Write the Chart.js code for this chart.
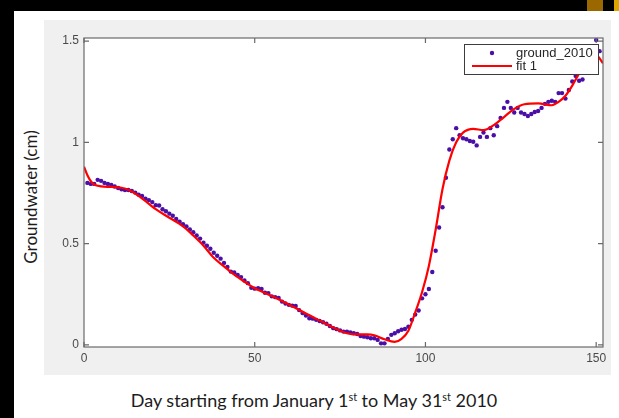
<!DOCTYPE html>
<html>
<head>
<meta charset="utf-8">
<script src="https://cdn.jsdelivr.net/npm/chart.js@4"></script>
<style>
  html, body { margin: 0; padding: 0; background: #ffffff; }
  body { width: 619px; height: 418px; position: relative; overflow: hidden; }
  .deco { position: absolute; }
  #fig { position: absolute; left: 44px; top: 20px; width: 567px; height: 355px; background: #f0f0f0; }
  #fig canvas { display: block; }
  .title { position: absolute; white-space: nowrap; font-family: Lato, "Open Sans", sans-serif; color: #1c1c1c; line-height: 1; }
  .title sup { font-size: 0.6em; vertical-align: 0; position: relative; top: -0.55em; line-height: 0; }
  #ytitle { left: 30px; top: 197px; font-size: 17px; transform: translate(-50%, -50%) rotate(-90deg); }
  #xtitle { left: 314px; top: 400px; font-size: 18px; transform: translate(-50%, -50%); }
</style>
</head>
<body>
<div class="deco" style="left:0;top:0;width:619px;height:11px;background:#000;"></div>
<div class="deco" style="left:0;top:0;width:14px;height:418px;background:#000;"></div>
<div class="deco" style="left:587px;top:0;width:16px;height:11px;background:#9b6800;"></div>
<div class="deco" style="left:614px;top:0;width:5px;height:11px;background:#dca600;"></div>

<div id="fig"><canvas id="chart" width="567" height="355"></canvas></div>

<div class="title" id="ytitle">Groundwater (cm)</div>
<div class="title" id="xtitle">Day starting from January 1<sup>st</sup> to May 31<sup>st</sup> 2010</div>

<script>
// Daily groundwater readings (cm), one per day starting January 1st
const firstDay = 1;
const groundwater = [
  0.800, 0.795, 0.795, 0.815, 0.810, 0.800, 0.795, 0.790, 0.782, 0.775,
  0.768, 0.765, 0.765, 0.760, 0.752, 0.742, 0.735, 0.722, 0.715, 0.705,
  0.690, 0.688, 0.670, 0.660, 0.648, 0.638, 0.622, 0.608, 0.596, 0.585,
  0.570, 0.556, 0.540, 0.525, 0.505, 0.490, 0.475, 0.455, 0.440, 0.426,
  0.405, 0.385, 0.362, 0.358, 0.345, 0.335, 0.318, 0.305, 0.282, 0.278,
  0.280, 0.276, 0.258, 0.256, 0.240, 0.236, 0.232, 0.214, 0.205, 0.198,
  0.194, 0.192, 0.172, 0.158, 0.145, 0.132, 0.130, 0.124, 0.118, 0.112,
  0.105, 0.094, 0.083, 0.078, 0.072, 0.066, 0.066, 0.062, 0.058, 0.054,
  0.044, 0.041, 0.038, 0.033, 0.033, 0.025, 0.008, 0.008, 0.030, 0.050,
  0.058, 0.068, 0.075, 0.079, 0.090, 0.124, 0.150, 0.170, 0.230, 0.250,
  0.276, 0.360, 0.465, 0.580, 0.680, 0.825, 0.965, 1.015, 1.070, 1.035,
  1.020, 1.015, 1.007, 1.003, 0.985, 1.027, 1.048, 1.027, 1.070, 1.035,
  1.080, 1.120, 1.170, 1.200, 1.170, 1.147, 1.170, 1.147, 1.140, 1.130,
  1.140, 1.150, 1.155, 1.170, 1.190, 1.200, 1.205, 1.200, 1.243, 1.243,
  1.216, 1.258, 1.300, 1.328, 1.304, 1.310, 1.370, 1.400, 1.440, 1.505,
  1.450
];

// Smoothed fit ("fit 1") sampled along the day axis
const fitDays = [
  0, 1, 2, 3, 5, 8, 11, 13, 16, 21, 25, 29, 32, 35, 38, 41, 44, 47, 50, 55,
  60, 65, 70, 74, 77, 80, 83, 85, 88, 91, 93, 95, 97, 99, 101, 103, 105, 107, 109, 111,
  114, 117, 120, 123, 126, 129, 133, 137, 139, 141, 143, 145, 147, 149, 150.5, 152
];
const fitValues = [
  0.880, 0.838, 0.808, 0.792, 0.783, 0.780, 0.776, 0.766, 0.736, 0.670,
  0.628, 0.585, 0.540, 0.490, 0.430, 0.388, 0.347, 0.312, 0.280, 0.242,
  0.200, 0.155, 0.112, 0.078, 0.058, 0.052, 0.052, 0.048, 0.028, 0.015,
  0.030, 0.070, 0.160, 0.260, 0.390, 0.570, 0.770, 0.910, 1.000, 1.048,
  1.067, 1.060, 1.085, 1.125, 1.165, 1.188, 1.192, 1.183, 1.200, 1.230,
  1.280, 1.340, 1.400, 1.440, 1.425, 1.390
];

// Axis ticks
const xTicks = [0, 50, 100, 150];
const xTickLabels = ['0', '50', '100', '150'];
const yTicks = [0, 0.5, 1, 1.5];
const yTickLabels = ['0', '0.5', '1', '1.5'];

const seriesLabels = ['ground_2010', 'fit 1'];
const pointColor = '#4a0fa6';
const lineColor = '#ff0000';
const axisColor = '#6a6a6a';
const tickFont = { family: 'Liberation Sans', size: 12 };

// White plotting area behind the data
const plotBackground = {
  id: 'plotBackground',
  beforeDraw(chart) {
    const { ctx, chartArea: a } = chart;
    ctx.save();
    ctx.fillStyle = '#ffffff';
    ctx.fillRect(a.left, a.top, a.right - a.left, a.bottom - a.top);
    ctx.restore();
  }
};

// Boxed axes with inward tick marks on all four sides
const boxedAxes = {
  id: 'boxedAxes',
  afterDatasetsDraw(chart) {
    const { ctx, chartArea: a, scales } = chart;
    const len = 5;
    ctx.save();
    ctx.strokeStyle = axisColor;
    ctx.lineWidth = 1.2;
    ctx.strokeRect(a.left, a.top, a.right - a.left, a.bottom - a.top);
    ctx.beginPath();
    xTicks.forEach(v => {
      const px = scales.x.getPixelForValue(v);
      ctx.moveTo(px, a.bottom); ctx.lineTo(px, a.bottom - len);
      ctx.moveTo(px, a.top); ctx.lineTo(px, a.top + len);
    });
    yTicks.forEach(v => {
      const py = scales.y.getPixelForValue(v);
      ctx.moveTo(a.left, py); ctx.lineTo(a.left + len, py);
      ctx.moveTo(a.right, py); ctx.lineTo(a.right - len, py);
    });
    ctx.stroke();
    ctx.restore();
  }
};

// Legend box in the upper right corner of the plot
const boxedLegend = {
  id: 'boxedLegend',
  afterDatasetsDraw(chart) {
    const { ctx, chartArea: a } = chart;
    const w = 135, h = 31;
    const x0 = a.right - 4 - w, y0 = a.top + 6;
    const ds = chart.data.datasets;
    const scatter = ds.find(d => d.type === 'scatter');
    const line = ds.find(d => d.type === 'line');
    ctx.save();
    ctx.fillStyle = '#ffffff';
    ctx.fillRect(x0, y0, w, h);
    ctx.strokeStyle = '#3c3c3c';
    ctx.lineWidth = 1;
    ctx.strokeRect(x0 + 0.5, y0 + 0.5, w - 1, h - 1);

    const row1 = y0 + 9, row2 = y0 + 22;
    ctx.fillStyle = scatter.backgroundColor;
    ctx.beginPath();
    ctx.arc(x0 + 28, row1, 2.2, 0, Math.PI * 2);
    ctx.fill();

    ctx.strokeStyle = line.borderColor;
    ctx.lineWidth = 2.2;
    ctx.beginPath();
    ctx.moveTo(x0 + 8, row2);
    ctx.lineTo(x0 + 48, row2);
    ctx.stroke();

    ctx.fillStyle = '#262626';
    ctx.font = '13px "Liberation Sans"';
    ctx.textBaseline = 'middle';
    ctx.textAlign = 'left';
    ctx.fillText(scatter.label, x0 + 52, row1);
    ctx.fillText(line.label, x0 + 52, row2);
    ctx.restore();
  }
};

new Chart(document.getElementById('chart'), {
  data: {
    datasets: [
      {
        type: 'line',
        label: seriesLabels[1],
        data: fitDays.map((d, i) => ({ x: d, y: fitValues[i] })),
        borderColor: lineColor,
        borderWidth: 2.2,
        pointRadius: 0,
        fill: false,
        cubicInterpolationMode: 'monotone',
        order: 1
      },
      {
        type: 'scatter',
        label: seriesLabels[0],
        data: groundwater.map((v, i) => ({ x: i + firstDay, y: v })),
        backgroundColor: pointColor,
        borderWidth: 0,
        pointRadius: 2.2,
        order: 2
      }
    ]
  },
  options: {
    responsive: false,
    animation: false,
    devicePixelRatio: 1,
    layout: { padding: { top: 18, right: 8, left: 0, bottom: 0 } },
    plugins: { legend: { display: false }, tooltip: { enabled: false } },
    scales: {
      x: {
        type: 'linear',
        min: 0,
        max: 152,
        afterBuildTicks: s => { s.ticks = xTicks.map(v => ({ value: v })); },
        afterFit: s => { s.height = 28; },
        grid: { display: false, drawTicks: false },
        border: { display: false },
        ticks: {
          padding: 4,
          color: '#4a4a4a',
          font: tickFont,
          maxRotation: 0,
          callback: v => xTickLabels[xTicks.indexOf(v)]
        }
      },
      y: {
        type: 'linear',
        min: -0.01,
        max: 1.515,
        afterBuildTicks: s => { s.ticks = yTicks.map(v => ({ value: v })); },
        afterFit: s => { s.width = 40; },
        grid: { display: false, drawTicks: false },
        border: { display: false },
        ticks: {
          padding: 5,
          color: '#4a4a4a',
          font: tickFont,
          callback: v => yTickLabels[yTicks.indexOf(v)]
        }
      }
    }
  },
  plugins: [plotBackground, boxedAxes, boxedLegend]
});
</script>
</body>
</html>
